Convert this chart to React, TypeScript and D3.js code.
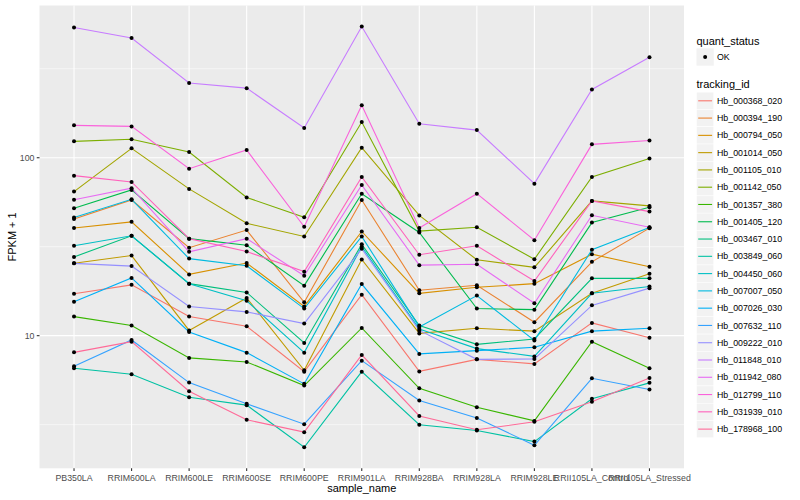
import React from "react";
import * as d3 from "d3";

const samples = [
  "PB350LA", "RRIM600LA", "RRIM600LE", "RRIM600SE", "RRIM600PE", "RRIM901LA",
  "RRIM928BA", "RRIM928LA", "RRIM928LE", "RRII105LA_Control", "RRII105LA_Stressed",
];

const trackingIds = [
  "Hb_000368_020", "Hb_000394_190", "Hb_000794_050", "Hb_001014_050", "Hb_001105_010",
  "Hb_001142_050", "Hb_001357_380", "Hb_001405_120", "Hb_003467_010", "Hb_003849_060",
  "Hb_004450_060", "Hb_007007_050", "Hb_007026_030", "Hb_007632_110", "Hb_009222_010",
  "Hb_011848_010", "Hb_011942_080", "Hb_012799_110", "Hb_031939_010", "Hb_178968_100",
];

// FPKM + 1 per sample, in the order of `samples`
const hb_000368_020 = [17.2, 19.3, 12.8, 11.3, 6.28, 17.0, 6.3, 7.36, 6.94, 11.8, 9.74];
const hb_000394_190 = [45.3, 57.9, 31.2, 39.2, 15.4, 57.9, 18.0, 19.2, 11.9, 26.0, 40.2];
const hb_000794_050 = [40.3, 43.6, 22.1, 25.6, 14.6, 38.5, 17.3, 18.7, 19.6, 28.7, 24.4];
const hb_001014_050 = [25.5, 28.2, 10.7, 16.3, 6.39, 26.8, 10.3, 11.0, 10.6, 17.3, 22.3];
const hb_001105_010 = [64.5, 112.9, 66.8, 42.8, 36.1, 113.8, 47.4, 26.7, 24.2, 57.2, 53.6];
const hb_001142_050 = [123.6, 126.9, 107.6, 59.8, 46.3, 158.6, 38.7, 40.7, 26.9, 77.9, 99.0];
const hb_001357_380 = [12.8, 11.4, 7.5, 7.12, 5.24, 11.05, 5.06, 3.96, 3.32, 9.25, 6.56];
const hb_001405_120 = [52.0, 65.9, 35.1, 32.2, 19.1, 62.8, 38.0, 14.2, 14.0, 43.2, 52.7];
const hb_003467_010 = [27.7, 36.4, 19.6, 17.5, 9.1, 32.6, 11.4, 8.94, 9.58, 21.0, 21.0];
const hb_003849_060 = [6.56, 6.07, 4.51, 4.07, 2.36, 6.28, 3.16, 2.93, 2.54, 4.42, 5.43];
const hb_004450_060 = [32.0, 36.4, 19.6, 15.7, 8.03, 31.6, 10.9, 8.46, 7.65, 17.3, 18.9];
const hb_007007_050 = [46.1, 58.4, 27.1, 24.7, 14.2, 36.1, 11.2, 16.8, 9.4, 30.4, 40.5];
const hb_007026_030 = [15.5, 21.1, 10.5, 8.03, 5.36, 19.5, 7.9, 8.24, 8.6, 10.6, 11.0];
const hb_007632_110 = [6.73, 9.46, 5.45, 4.14, 3.18, 7.24, 4.32, 3.45, 2.42, 5.76, 4.98];
const hb_009222_010 = [25.5, 24.6, 14.6, 13.6, 11.7, 30.8, 10.7, 7.36, 7.4, 14.8, 18.5];
const hb_011848_010 = [539, 471, 263, 246, 147, 546, 155, 143, 71.5, 242, 367];
const hb_011942_080 = [58.1, 67.4, 29.6, 35.1, 21.7, 70.3, 24.9, 25.2, 15.2, 47.5, 40.7];
const hb_012799_110 = [152, 150, 86.8, 110.5, 40.9, 197, 40.3, 62.8, 34.4, 118.9, 125];
const hb_031939_010 = [79.3, 73.1, 35.1, 29.7, 22.9, 77.9, 28.5, 32.0, 20.3, 57.2, 49.8];
const hb_178968_100 = [8.06, 9.25, 4.87, 3.37, 2.87, 7.79, 3.54, 2.96, 3.28, 4.25, 5.79];

const seriesValues = [
  hb_000368_020, hb_000394_190, hb_000794_050, hb_001014_050, hb_001105_010,
  hb_001142_050, hb_001357_380, hb_001405_120, hb_003467_010, hb_003849_060,
  hb_004450_060, hb_007007_050, hb_007026_030, hb_007632_110, hb_009222_010,
  hb_011848_010, hb_011942_080, hb_012799_110, hb_031939_010, hb_178968_100,
];

const yMajor = [10, 100];
const yMinor = [Math.sqrt(10), Math.sqrt(1000), Math.sqrt(100000)];
const quantLevels = ["OK"];

// ggplot2 hue palette: polar CIE-LUV -> sRGB
function hclLuv(h: number, c: number, l: number): string {
  const hr = (h * Math.PI) / 180;
  const u = c * Math.cos(hr);
  const v = c * Math.sin(hr);
  const Y = l > 8 ? Math.pow((l + 16) / 116, 3) : l / 903.3;
  const Xn = 0.95047, Yn = 1.0, Zn = 1.08883;
  const den = Xn + 15 * Yn + 3 * Zn;
  const un = (4 * Xn) / den, vn = (9 * Yn) / den;
  const up = u / (13 * l) + un;
  const vp = v / (13 * l) + vn;
  const X = (9 * Y * up) / (4 * vp);
  const Z = (Y * (12 - 3 * up - 20 * vp)) / (4 * vp);
  const lin = [
    3.2404542 * X - 1.5371385 * Y - 0.4985314 * Z,
    -0.969266 * X + 1.8760108 * Y + 0.041556 * Z,
    0.0556434 * X - 0.2040259 * Y + 1.0572252 * Z,
  ];
  const g = lin.map((x) => {
    const s = x <= 0.0031308 ? 12.92 * x : 1.055 * Math.pow(x, 1 / 2.4) - 0.055;
    return Math.round(Math.max(0, Math.min(1, s)) * 255);
  });
  return d3.rgb(g[0], g[1], g[2]).formatHex();
}

const n = trackingIds.length;
const colors = trackingIds.map((_, i) => hclLuv(15 + (360 / n) * i, 100, 65));

const W = 800, H = 500;
const panel = { left: 39.5, right: 684, top: 5.5, bottom: 468.3 };

export default function App() {
  const all = seriesValues.flat();
  const lmin = Math.log10(d3.min(all) as number);
  const lmax = Math.log10(d3.max(all) as number);
  const pad = (lmax - lmin) * 0.05;
  const y = d3.scaleLog()
    .domain([Math.pow(10, lmin - pad), Math.pow(10, lmax + pad)])
    .range([panel.bottom, panel.top]);
  const x = d3.scalePoint<string>()
    .domain(samples)
    .range([panel.left, panel.right])
    .padding(0.6);

  const line = d3.line<number>()
    .x((_, i) => x(samples[i]) as number)
    .y((v) => y(v));

  const font = "'Liberation Sans', Arial, Helvetica, sans-serif";
  const keySize = 17.28;
  const legendX = 696.5;
  const trackStart = 100.8;

  return (
    <svg width={W} height={H} style={{ display: "block", position: "absolute", left: 0, top: 0 }} fontFamily={font}>
      <rect x={0} y={0} width={W} height={H} fill="#ffffff" />
      <rect x={panel.left} y={panel.top} width={panel.right - panel.left} height={panel.bottom - panel.top} fill="#EBEBEB" />
      {yMinor.filter((v) => y(v) >= panel.top && y(v) <= panel.bottom).map((v) => (
        <line key={"mn" + v} x1={panel.left} x2={panel.right} y1={y(v)} y2={y(v)} stroke="#ffffff" strokeWidth={0.55} />
      ))}
      {yMajor.map((v) => (
        <line key={"mj" + v} x1={panel.left} x2={panel.right} y1={y(v)} y2={y(v)} stroke="#ffffff" strokeWidth={1.1} />
      ))}
      {samples.map((s) => (
        <line key={"gx" + s} x1={x(s)} x2={x(s)} y1={panel.top} y2={panel.bottom} stroke="#ffffff" strokeWidth={1.1} />
      ))}
      {seriesValues.map((vals, i) => (
        <path key={"l" + i} d={line(vals) as string} fill="none" stroke={colors[i]} strokeWidth={1.1} />
      ))}
      {seriesValues.map((vals, i) =>
        vals.map((v, j) => (
          <circle key={"p" + i + "-" + j} cx={x(samples[j])} cy={y(v)} r={2} fill="#000000" />
        ))
      )}
      {/* y axis */}
      {yMajor.map((v) => (
        <g key={"yt" + v}>
          <line x1={panel.left - 2.75} x2={panel.left} y1={y(v)} y2={y(v)} stroke="#333333" strokeWidth={1.1} />
          <text x={panel.left - 5} y={y(v)} dy="0.35em" textAnchor="end" fontSize={8.8} fill="#4D4D4D">{v}</text>
        </g>
      ))}
      {/* x axis */}
      {samples.map((s) => (
        <g key={"xt" + s}>
          <line x1={x(s)} x2={x(s)} y1={panel.bottom} y2={panel.bottom + 2.75} stroke="#333333" strokeWidth={1.1} />
          <text x={x(s)} y={panel.bottom + 9.6} dy="0.35em" textAnchor="middle" fontSize={8.8} fill="#4D4D4D">{s}</text>
        </g>
      ))}
      <text x={(panel.left + panel.right) / 2} y={488.5} dy="0.35em" textAnchor="middle" fontSize={11} fill="#000000">sample_name</text>
      <text transform={`translate(12.5, ${(panel.top + panel.bottom) / 2}) rotate(-90)`} dy="0.35em" textAnchor="middle" fontSize={11} fill="#000000">FPKM + 1</text>

      {/* legend: quant_status */}
      <text x={legendX} y={40.7} dy="0.35em" fontSize={11} fill="#000000">quant_status</text>
      {quantLevels.map((q, i) => (
        <g key={"q" + q}>
          <rect x={legendX} y={57 - keySize / 2 + i * keySize} width={keySize} height={keySize} fill="#F2F2F2" />
          <circle cx={legendX + keySize / 2} cy={57 + i * keySize} r={2} fill="#000000" />
          <text x={717} y={57 + i * keySize} dy="0.35em" fontSize={8.8} fill="#000000">{q}</text>
        </g>
      ))}
      {/* legend: tracking_id */}
      <text x={legendX} y={84.5} dy="0.35em" fontSize={11} fill="#000000">tracking_id</text>
      {trackingIds.map((id, i) => {
        const cy = trackStart + i * keySize;
        return (
          <g key={"k" + id}>
            <rect x={legendX} y={cy - keySize / 2} width={keySize} height={keySize} fill="#F2F2F2" stroke="#ffffff" strokeWidth={0.5} />
            <line x1={legendX + 1.7} x2={legendX + keySize - 1.7} y1={cy} y2={cy} stroke={colors[i]} strokeWidth={1.1} />
            <text x={717} y={cy} dy="0.35em" fontSize={8.8} fill="#000000">{id}</text>
          </g>
        );
      })}
    </svg>
  );
}
